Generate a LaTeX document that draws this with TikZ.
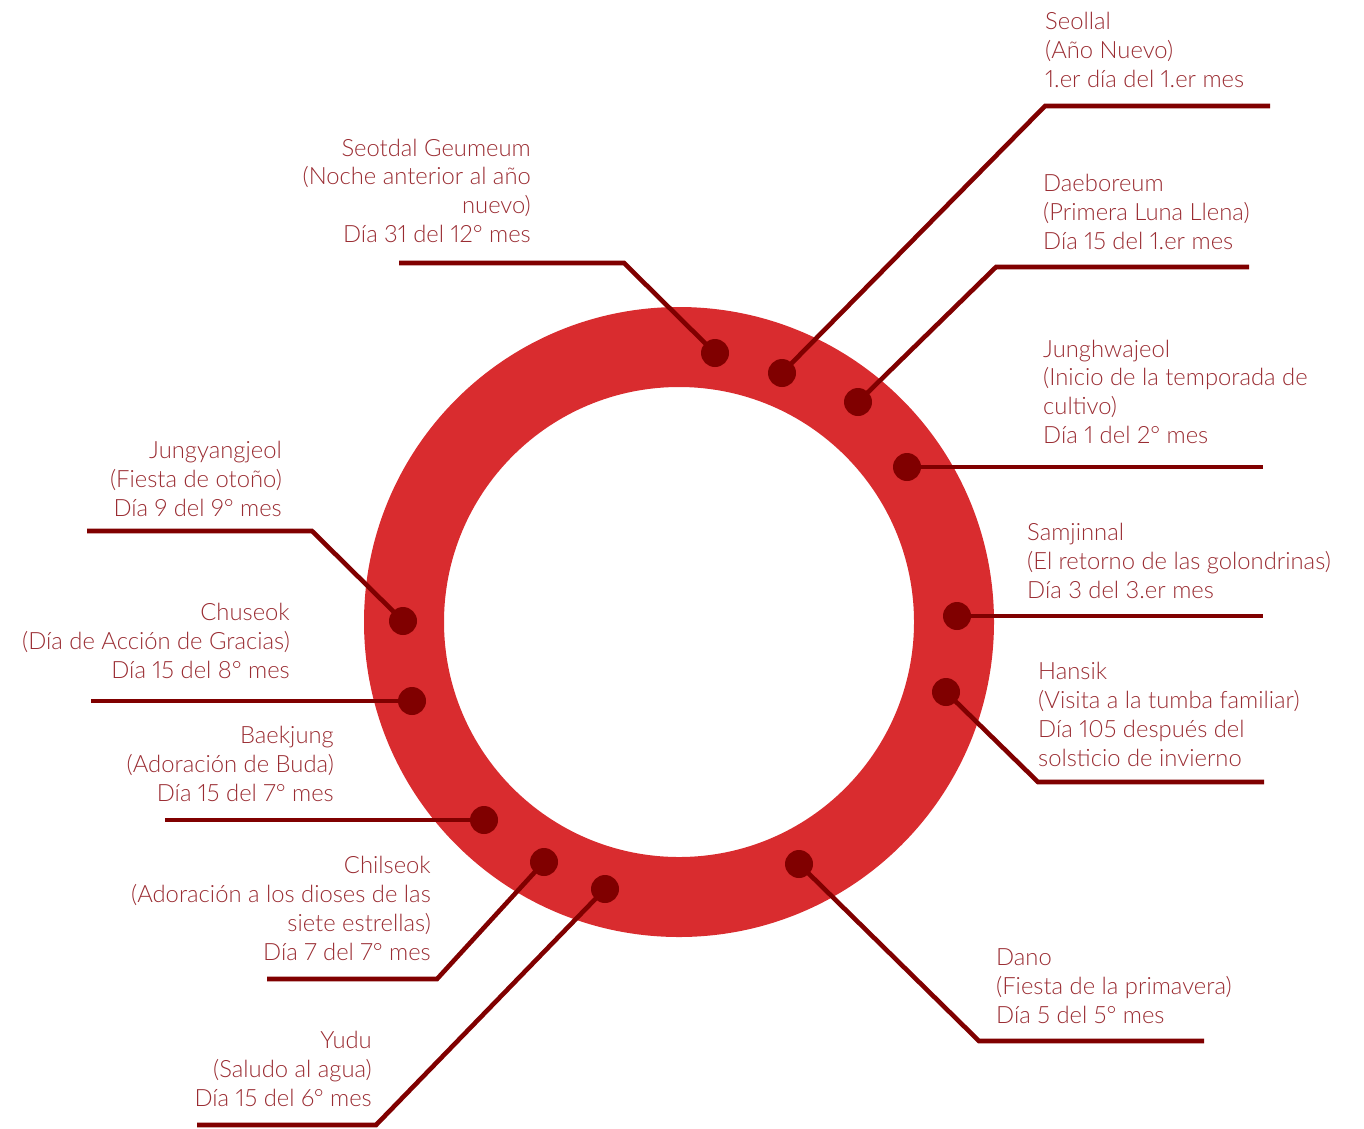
\documentclass[tikz,border=0pt]{standalone}
\usepackage{fontspec}
\setmainfont{Lato Light}[Numbers=Proportional]
\definecolor{ringred}{HTML}{D92C2F}
\definecolor{dotred}{HTML}{800000}
\definecolor{txtred}{HTML}{9A2C32}
\begin{document}
\begin{tikzpicture}[x=1pt,y=-1pt,
  dot/.style={circle,fill=dotred,inner sep=0pt,minimum size=28pt},
  conn/.style={draw=dotred,line width=4.6pt},
  lab/.style={inner sep=0pt,text=txtred,font=\fontsize{23.8}{28.8}\selectfont},
  labL/.style={lab,align=left,anchor=base west},
  labR/.style={lab,align=right,anchor=base east}]
\useasboundingbox (0,0) rectangle (1364,1128);
\coordinate (c) at (679,622);
\fill[ringred,even odd rule] (c) circle[radius=315pt] (c) circle[radius=235pt];

% dots
\node[dot] (d1) at (715,353) {};
\node[dot] (d2) at (782,373) {};
\node[dot] (d3) at (858,402) {};
\node[dot] (d4) at (907,467) {};
\node[dot] (d5) at (957,616) {};
\node[dot] (d6) at (946,692) {};
\node[dot] (d7) at (799,864) {};
\node[dot] (d8) at (605,889) {};
\node[dot] (d9) at (544,862) {};
\node[dot] (d10) at (484,820) {};
\node[dot] (d11) at (412,701) {};
\node[dot] (d12) at (403,621) {};

% bends and ends
\coordinate (b1) at (624,263); \coordinate (e1) at (399,263);
\coordinate (b2) at (1045,106); \coordinate (e2) at (1270,106);
\coordinate (b3) at (996,267); \coordinate (e3) at (1249,267);
\coordinate (e4) at (1263,467);
\coordinate (e5) at (1263,616);
\coordinate (b6) at (1038,782); \coordinate (e6) at (1264,782);
\coordinate (b7) at (979,1041); \coordinate (e7) at (1204,1041);
\coordinate (b8) at (376,1125); \coordinate (e8) at (197,1125);
\coordinate (b9) at (437,979); \coordinate (e9) at (267,979);
\coordinate (e10) at (165,820);
\coordinate (e11) at (91,701);
\coordinate (b12) at (312,531); \coordinate (e12) at (87,531);

% connectors
\draw[conn] (d1.center) -- (b1) -- (e1);
\draw[conn] (d2.center) -- (b2) -- (e2);
\draw[conn] (d3.center) -- (b3) -- (e3);
\draw[conn] (d4.center) -- (e4);
\draw[conn] (d5.center) -- (e5);
\draw[conn] (d6.center) -- (b6) -- (e6);
\draw[conn] (d7.center) -- (b7) -- (e7);
\draw[conn] (d8.center) -- (b8) -- (e8);
\draw[conn] (d9.center) -- (b9) -- (e9);
\draw[conn] (d10.center) -- (e10);
\draw[conn] (d11.center) -- (e11);
\draw[conn] (d12.center) -- (b12) -- (e12);

% labels (anchor = baseline of last line)
\node[labL] (t2) at (1045,87) {Seollal\\(Año Nuevo)\\1.er día del 1.er mes};
\node[labR] (t1) at (531,242.5) {Seotdal Geumeum\\(Noche anterior al año\\nuevo)\\Día 31 del 12° mes};
\node[labL] (t3) at (1043,249) {Daeboreum\\(Primera Luna Llena)\\Día 15 del 1.er mes};
\node[labL] (t4) at (1043,443.5) {Junghwajeol\\(Inicio de la temporada de\\cultivo)\\Día 1 del 2° mes};
\node[labL] (t5) at (1027,598) {Samjinnal\\(El retorno de las golondrinas)\\Día 3 del 3.er mes};
\node[labL] (t6) at (1038,766) {Hansik\\(Visita a la tumba familiar)\\Día 105 después del\\solsticio de invierno};
\node[labL] (t7) at (996,1023) {Dano\\(Fiesta de la primavera)\\Día 5 del 5° mes};
\node[labR] (t8) at (372,1106) {Yudu\\(Saludo al agua)\\Día 15 del 6° mes};
\node[labR] (t9) at (431,960) {Chilseok\\(Adoración a los dioses de las\\siete estrellas)\\Día 7 del 7° mes};
\node[labR] (t10) at (334,801) {Baekjung\\(Adoración de Buda)\\Día 15 del 7° mes};
\node[labR] (t11) at (290,678) {Chuseok\\(Día de Acción de Gracias)\\Día 15 del 8° mes};
\node[labR] (t12) at (282,516) {Jungyangjeol\\(Fiesta de otoño)\\Día 9 del 9° mes};
\end{tikzpicture}
\end{document}
